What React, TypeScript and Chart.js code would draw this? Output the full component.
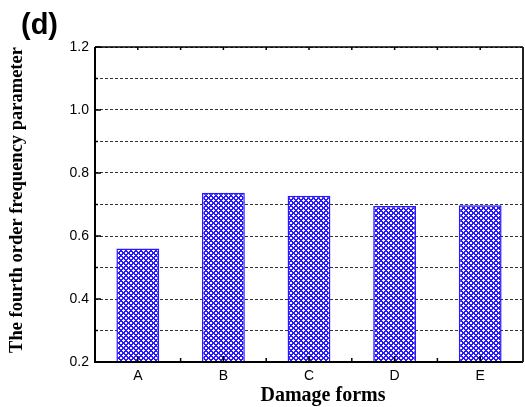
import React, { useEffect, useRef } from "react";
import { Chart, registerables } from "chart.js";

Chart.register(...registerables);

// Fourth-order frequency parameter for each damage form
const categories = ["A", "B", "C", "D", "E"];
const values = [0.56, 0.737, 0.728, 0.695, 0.698];
const yMin = 0.2;
const yMax = 1.2;
const yStep = 0.1;
const panelLabel = "(d)";
const xTitle = "Damage forms";
const yTitle = "The fourth order frequency parameter";

const BAR_BLUE = "rgb(40,24,255)";

function makeHatch(): CanvasPattern | string {
  const p = 5;
  const tile = document.createElement("canvas");
  tile.width = p;
  tile.height = p;
  const tctx = tile.getContext("2d");
  if (!tctx) return BAR_BLUE;
  const img = tctx.createImageData(p, p);
  for (let y = 0; y < p; y++) {
    for (let x = 0; x < p; x++) {
      const a = (((x - y) % p) + p) % p;
      const b = (x + y) % p;
      const blue = a <= 1 || b <= 1;
      const i = (y * p + x) * 4;
      if (blue) {
        img.data[i] = 40;
        img.data[i + 1] = 24;
        img.data[i + 2] = 255;
      } else {
        img.data[i] = 255;
        img.data[i + 1] = 255;
        img.data[i + 2] = 255;
      }
      img.data[i + 3] = 255;
    }
  }
  tctx.putImageData(img, 0, 0);
  const pat = tctx.createPattern(tile, "repeat");
  return pat || BAR_BLUE;
}

const framePlugin = {
  id: "frameAndTitles",
  afterDraw(chart: any) {
    const { ctx, chartArea } = chart;
    const { left, right, top, bottom } = chartArea;
    const xs = chart.scales.x;
    const ys = chart.scales.y;
    ctx.save();
    ctx.strokeStyle = "#000";
    ctx.setLineDash([]);

    // box frame
    ctx.lineWidth = 2;
    ctx.beginPath();
    ctx.moveTo(left, top);
    ctx.lineTo(left, bottom);
    ctx.lineTo(right, bottom);
    ctx.stroke();
    ctx.lineWidth = 1.5;
    ctx.beginPath();
    ctx.moveTo(left, top);
    ctx.lineTo(right, top);
    ctx.stroke();
    ctx.strokeStyle = "#222";
    ctx.lineWidth = 2;
    ctx.beginPath();
    ctx.moveTo(right, top);
    ctx.lineTo(right, bottom);
    ctx.stroke();

    // y ticks (inward): major every 0.2, minor in between
    ctx.strokeStyle = "#000";
    ctx.lineWidth = 1.5;
    const n = Math.round((yMax - yMin) / yStep);
    for (let k = 0; k <= n; k++) {
      const v = yMin + k * yStep;
      const py = ys.getPixelForValue(v);
      const len = k % 2 === 0 ? 6 : 3;
      ctx.beginPath();
      ctx.moveTo(left, py);
      ctx.lineTo(left + len, py);
      ctx.stroke();
    }

    // x ticks: major at category centres, minor at boundaries
    for (let i = 0; i < categories.length; i++) {
      const cx = xs.getPixelForValue(i);
      ctx.beginPath();
      ctx.moveTo(cx, bottom);
      ctx.lineTo(cx, bottom - 6);
      ctx.stroke();
      ctx.beginPath();
      ctx.moveTo(cx, top);
      ctx.lineTo(cx, top + 3);
      ctx.stroke();
      if (i > 0) {
        const bx = (xs.getPixelForValue(i - 1) + cx) / 2;
        ctx.beginPath();
        ctx.moveTo(bx, bottom);
        ctx.lineTo(bx, bottom - 4);
        ctx.stroke();
        ctx.beginPath();
        ctx.moveTo(bx, top);
        ctx.lineTo(bx, top + 3);
        ctx.stroke();
      }
    }

    // titles
    ctx.fillStyle = "#000";
    ctx.font = "bold 29px 'Liberation Sans', Arial, sans-serif";
    ctx.textAlign = "left";
    ctx.textBaseline = "alphabetic";
    ctx.fillText(panelLabel, 21, 34);

    ctx.font = "bold 20px 'Liberation Serif', 'Times New Roman', serif";
    ctx.textAlign = "center";
    ctx.fillText(xTitle, 323, 401);

    ctx.save();
    ctx.translate(22, 200);
    ctx.rotate(-Math.PI / 2);
    ctx.font = "bold 18.5px 'Liberation Serif', 'Times New Roman', serif";
    ctx.textAlign = "center";
    ctx.fillText(yTitle, 0, 0);
    ctx.restore();

    ctx.restore();
  },
};

export default function App() {
  const canvasRef = useRef<HTMLCanvasElement | null>(null);

  useEffect(() => {
    document.body.style.margin = "0";
    const canvas = canvasRef.current;
    if (!canvas) return;
    const hatch = makeHatch();
    const chart = new Chart(canvas, {
      type: "bar",
      data: {
        labels: categories,
        datasets: [
          {
            data: values,
            backgroundColor: hatch as any,
            borderColor: BAR_BLUE,
            borderWidth: 1.5,
            barPercentage: 0.5,
            categoryPercentage: 1,
          },
        ],
      },
      options: {
        responsive: false,
        animation: false,
        devicePixelRatio: 1,
        layout: { padding: { top: 47, right: 2, left: 0, bottom: 0 } },
        plugins: {
          legend: { display: false },
          tooltip: { enabled: false },
        },
        scales: {
          x: {
            type: "category",
            grid: { display: false, drawTicks: false },
            border: { display: false },
            ticks: {
              color: "#000",
              padding: 6,
              maxRotation: 0,
              font: { family: "'Liberation Sans', Arial, sans-serif", size: 14 },
            },
            afterFit(scale: any) {
              scale.height = 45;
            },
          },
          y: {
            min: yMin,
            max: yMax,
            grid: { color: "#333", lineWidth: 1, drawTicks: false },
            border: { display: false, dash: [3, 2] },
            ticks: {
              stepSize: yStep,
              color: "#000",
              padding: 6,
              font: { family: "'Liberation Sans', Arial, sans-serif", size: 14 },
              callback(v: any) {
                const k = Math.round(Number(v) * 10);
                return k % 2 === 0 ? (k / 10).toFixed(1) : "";
              },
            },
            afterFit(scale: any) {
              scale.width = 95;
            },
          },
        },
      },
      plugins: [framePlugin],
    });
    return () => chart.destroy();
  }, []);

  return (
    <div style={{ position: "absolute", left: 0, top: 0, width: 525, height: 407, background: "#fff" }}>
      <canvas ref={canvasRef} width={525} height={407} style={{ width: 525, height: 407 }} />
    </div>
  );
}
